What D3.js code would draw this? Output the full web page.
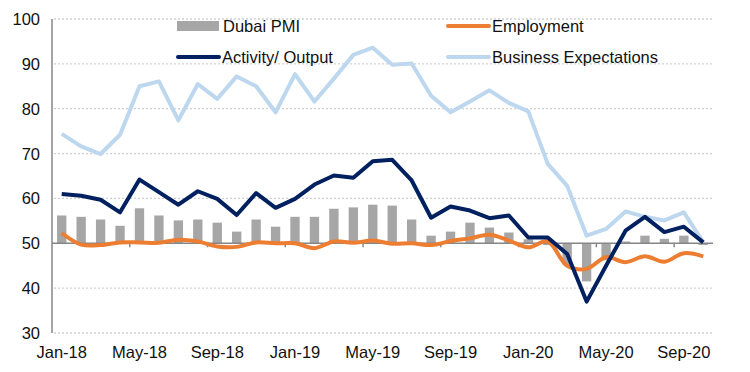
<!DOCTYPE html>
<html>
<head>
<meta charset="utf-8">
<script src="https://d3js.org/d3.v7.min.js"></script>
<style>
	body { margin: 0; background: #fff; }
	svg { display: block; font-family: "Liberation Sans", Arial, sans-serif; }
	.grid line { stroke: #cfcfcf; stroke-width: 1.3; stroke-dasharray: 2,2; }
	.tick-label { font-size: 16.5px; fill: #111; }
	.legend text { font-size: 16.5px; fill: #111; }
</style>
</head>
<body>
<div id="chart"></div>
<script>
	// months Jan-18 .. Oct-20
	var months = ["Jan-18","Feb-18","Mar-18","Apr-18","May-18","Jun-18","Jul-18","Aug-18","Sep-18","Oct-18","Nov-18","Dec-18",
		"Jan-19","Feb-19","Mar-19","Apr-19","May-19","Jun-19","Jul-19","Aug-19","Sep-19","Oct-19","Nov-19","Dec-19",
		"Jan-20","Feb-20","Mar-20","Apr-20","May-20","Jun-20","Jul-20","Aug-20","Sep-20","Oct-20"];

	var dubaiPMI = [56.2,55.9,55.3,53.9,57.8,56.2,55.1,55.3,54.6,52.6,55.3,53.7,
		55.9,55.9,57.7,58.0,58.6,58.4,55.3,51.7,52.6,54.6,53.5,52.4,
		50.9,49.6,45.2,41.5,46.2,50.4,51.7,51.0,51.7,49.6];

	var employment = [52.3,49.7,49.6,50.2,50.2,50.1,50.8,50.4,49.3,49.2,50.2,50.0,
		50.0,48.9,50.4,50.1,50.6,49.9,50.0,49.6,50.5,51.1,51.9,50.6,
		49.1,50.4,45.0,44.3,46.9,45.8,47.1,45.9,47.8,47.1];

	var activity = [61.0,60.6,59.7,56.9,64.2,61.4,58.6,61.6,59.9,56.3,61.2,57.9,
		59.9,63.1,65.1,64.6,68.3,68.6,64.0,55.7,58.2,57.3,55.6,56.2,
		51.3,51.3,47.6,37.0,45.0,52.8,55.9,52.5,53.7,50.2];

	var expectations = [74.4,71.6,69.9,74.2,85.0,86.1,77.4,85.5,82.2,87.2,85.0,79.2,
		87.7,81.6,86.7,92.0,93.6,89.8,90.1,82.9,79.2,81.6,84.1,81.3,
		79.4,67.7,62.8,51.7,53.2,57.1,55.9,55.1,56.9,50.2];

	var yTicks = [30,40,50,60,70,80,90,100];
	var xLabelEvery = 4;

	var width = 750, height = 372;
	var margin = {top: 19, left: 52, right: 37, bottom: 39};

	var svg = d3.select("#chart").append("svg")
		.attr("width", width)
		.attr("height", height);

	var x = d3.scaleBand()
		.domain(months)
		.range([margin.left, width - margin.right])
		.paddingInner(0.52)
		.paddingOuter(0.26);

	var xc = function(m) { return x(m) + x.bandwidth() / 2; };
	var step = x.step();
	var x0 = margin.left;

	var y = d3.scaleLinear()
		.domain([30, 100])
		.range([height - margin.bottom, margin.top]);

	// dotted gridlines
	svg.append("g").attr("class", "grid")
		.selectAll("line")
		.data(yTicks.filter(function(d){ return d !== 50; }))
		.enter().append("line")
		.attr("x1", x0 + 2)
		.attr("x2", width - margin.right)
		.attr("y1", function(d){ return y(d); })
		.attr("y2", function(d){ return y(d); });

	// y labels
	svg.append("g").selectAll("text")
		.data(yTicks)
		.enter().append("text")
		.attr("class", "tick-label")
		.attr("x", 40)
		.attr("y", function(d){ return y(d) + 6; })
		.attr("text-anchor", "end")
		.text(function(d){ return d; });

	// bars from 50
	svg.append("g").selectAll("rect")
		.data(dubaiPMI)
		.enter().append("rect")
		.attr("x", function(d, i){ return x(months[i]); })
		.attr("width", x.bandwidth())
		.attr("y", function(d){ return y(Math.max(d, 50)); })
		.attr("height", function(d){ return Math.abs(y(d) - y(50)); })
		.attr("fill", "#a6a6a6");

	// base line at 50 with ticks
	svg.append("line")
		.attr("x1", x0).attr("x2", width - margin.right)
		.attr("y1", y(50)).attr("y2", y(50))
		.attr("stroke", "#868686").attr("stroke-width", 1.5);

	svg.append("g").selectAll("line")
		.data(months.filter(function(d, i){ return i > 0 && i % xLabelEvery === 0; }))
		.enter().append("line")
		.attr("x1", function(d){ return x(d) - (step - x.bandwidth()) / 2; })
		.attr("x2", function(d){ return x(d) - (step - x.bandwidth()) / 2; })
		.attr("y1", y(50)).attr("y2", y(50) + 4)
		.attr("stroke", "#868686").attr("stroke-width", 1.5);

	// y axis line
	svg.append("line")
		.attr("x1", x0).attr("x2", x0)
		.attr("y1", y(100)).attr("y2", y(30))
		.attr("stroke", "#868686").attr("stroke-width", 1.5);

	// x labels
	svg.append("g").selectAll("text")
		.data(months.filter(function(d, i){ return i % xLabelEvery === 0; }))
		.enter().append("text")
		.attr("class", "tick-label")
		.attr("x", function(d){ return xc(d); })
		.attr("y", 358)
		.attr("text-anchor", "middle")
		.text(function(d){ return d; });

	var line = d3.line()
		.x(function(d, i){ return xc(months[i]); })
		.y(function(d){ return y(d); });

	var smooth = d3.line()
		.x(function(d, i){ return xc(months[i]); })
		.y(function(d){ return y(d); })
		.curve(d3.curveCatmullRom.alpha(0.5));

	var drawLine = function(data, gen, color) {
		svg.append("path")
			.datum(data)
			.attr("d", gen)
			.attr("fill", "none")
			.attr("stroke", color)
			.attr("stroke-width", 4)
			.attr("stroke-linejoin", "round");
	};

	drawLine(expectations, line, "#bdd7ee");
	drawLine(employment, smooth, "#ed7d31");
	drawLine(activity, line, "#002060");

	// legend
	var legend = svg.append("g").attr("class", "legend");

	legend.append("rect")
		.attr("x", 177).attr("y", 21).attr("width", 42).attr("height", 10)
		.attr("fill", "#a6a6a6");
	legend.append("text").attr("x", 223).attr("y", 32).text("Dubai PMI");

	var legendLines = [
		{x1: 448, x2: 489, y: 26, color: "#ed7d31", label: "Employment", tx: 492},
		{x1: 178, x2: 219, y: 57, color: "#002060", label: "Activity/ Output", tx: 222},
		{x1: 448, x2: 489, y: 57, color: "#bdd7ee", label: "Business Expectations", tx: 492}
	];

	legendLines.forEach(function(l) {
		legend.append("line")
			.attr("x1", l.x1).attr("x2", l.x2)
			.attr("y1", l.y).attr("y2", l.y)
			.attr("stroke", l.color).attr("stroke-width", 4)
			.attr("stroke-linecap", "round");
		legend.append("text").attr("x", l.tx).attr("y", l.y + 6).text(l.label);
	});
</script>
</body>
</html>
